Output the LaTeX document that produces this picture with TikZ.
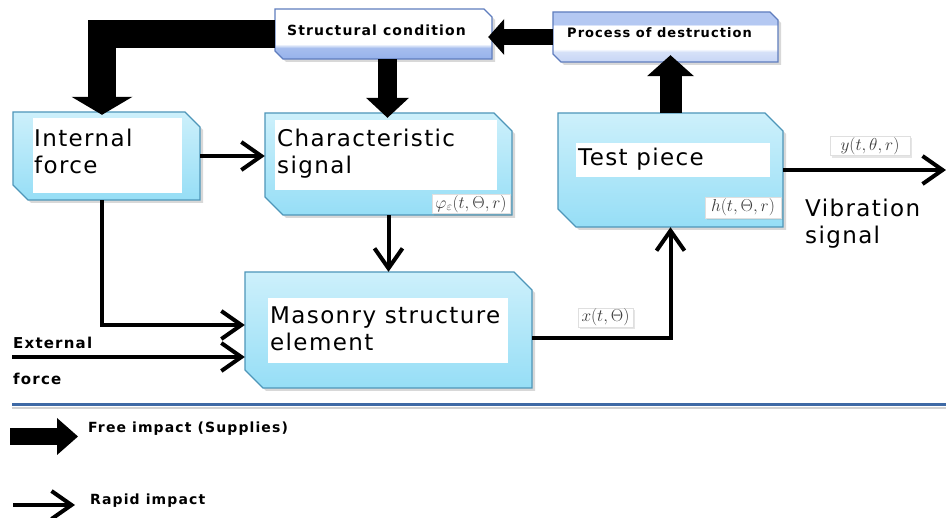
\documentclass[tikz,border=0pt]{standalone}
\usepackage{fontspec}
\usepackage{graphicx}
\usetikzlibrary{arrows.meta,shadows,fit,calc}
\newfontfamily\bigf[LetterSpace=6]{DejaVu Sans}
\newfontfamily\boldf[LetterSpace=8]{DejaVu Sans Bold}
\definecolor{bxline}{RGB}{78,150,185}
\definecolor{bxtop}{RGB}{205,240,251}
\definecolor{bxbot}{RGB}{150,222,246}
\definecolor{scline}{RGB}{95,125,190}
\definecolor{scblue}{RGB}{150,178,235}
\definecolor{pdblue}{RGB}{180,200,242}
\definecolor{rulec}{RGB}{62,105,165}
\definecolor{mathc}{RGB}{60,60,60}
\pgfdeclareverticalshading{scshade}{100bp}{color(0bp)=(scblue); color(25bp)=(scblue); color(36bp)=(scblue!85); color(40bp)=(white); color(100bp)=(white)}
\pgfdeclareverticalshading{pdshade}{100bp}{color(0bp)=(pdblue!75); color(25bp)=(pdblue!75); color(35bp)=(pdblue!55); color(38bp)=(white); color(61bp)=(white); color(63bp)=(pdblue); color(100bp)=(pdblue)}
\newcommand\snipbox[7]{%
  \path[#7] (#2,-#3) -- ({#4-#6},-#3) -- (#4,{-#3-#6}) -- (#4,-#5) -- ({#2+#6},-#5) -- (#2,{-#5+#6}) -- cycle;
  \node[fit={(#2,-#3) (#4,-#5)}, inner sep=0pt] (#1) {};
}
\begin{document}
\begin{tikzpicture}[x=1pt,y=1pt,
  bluebox/.style={draw=bxline, line width=1.3pt, top color=bxtop, bottom color=bxbot,
    drop shadow={opacity=.3, shadow xshift=3pt, shadow yshift=-3pt}},
  scbox/.style={draw=scline, line width=1.2pt, shading=scshade,
    drop shadow={opacity=.3, shadow xshift=3pt, shadow yshift=-3pt}},
  pdbox/.style={draw=scline, line width=1.2pt, shading=pdshade,
    drop shadow={opacity=.3, shadow xshift=3pt, shadow yshift=-3pt}},
  bigtxt/.style={font=\bigf\fontsize{23}{27}\selectfont, align=left, inner sep=0pt, anchor=base west},
  boldtxt/.style={font=\boldf\fontsize{#1}{#1}\selectfont, align=left, inner sep=0pt, anchor=base west},
  lbl/.style={fill=white, draw=gray!25, inner sep=1pt, text=mathc, font=\fontsize{17.28}{19}\selectfont,
    drop shadow={opacity=.2, shadow xshift=2pt, shadow yshift=-2pt}},
  rapid/.style={line width=4pt, line join=miter, -{Straight Barb[length=20pt,width=28pt]}},
  fatarrow/.style n args={3}{line width=#1, line join=miter, -{Triangle[width=#2,length=#3,line width=0pt]}}
]
\useasboundingbox (0,0) rectangle (946,-518);
\fill[white] (0,0) rectangle (946,-518);

% boxes
\snipbox{sc}{275}{9}{492}{59}{8}{scbox}
\snipbox{pd}{553}{12}{778}{62}{8}{pdbox}
\snipbox{ifo}{13}{112}{200}{200}{15}{bluebox}
\snipbox{cs}{265}{113}{512}{215}{18}{bluebox}
\snipbox{tp}{558}{113}{783}{227}{18}{bluebox}
\snipbox{ms}{245}{272}{532}{388}{18}{bluebox}

% white inner panels
\fill[white] (33,-118) rectangle (182,-193);
\fill[white] (275,-120) rectangle (497,-190);
\fill[white] (576,-143) rectangle (770,-177);
\fill[white] (268,-298) rectangle (508,-363);

% texts (base anchor = baseline of the last line)
\node[boldtxt=14] (tsc) at (287,-36) {Structural condition};
\node[boldtxt=13] (tpd) at (567,-38) {Process of destruction};
\node[bigtxt] (tif) at (34,-174) {Internal\\force};
\node[bigtxt] (tcs) at (277,-174) {Characteristic\\signal};
\node[bigtxt] (ttp) at (578,-166) {Test piece};
\node[bigtxt] (tms) at (270,-351) {Masonry structure\\element};
\node[bigtxt] (tvs) at (805,-244) {Vibration\\signal};
\node[font=\boldf\fontsize{15}{36}\selectfont, align=left, inner sep=0pt, anchor=base west] (text) at (13,-385) {External\\force};

% math labels
\node[lbl, minimum width=78pt, minimum height=18pt] (lphi) at (471,-204) {$\varphi_{\varepsilon}(t,\Theta,r)$};
\node[lbl, minimum width=76pt, minimum height=21pt] (lh) at (743,-207.5) {$h(t,\Theta,r)$};
\node[lbl, minimum width=55pt, minimum height=19pt] (lx) at (605.5,-317.5) {$x(t,\Theta)$};
\node[lbl, minimum width=80pt, minimum height=18pt] (ly) at (870,-146) {$y(t,\theta,r)$};

% separator rule
\draw[gray!35, line width=2pt] (12,-408) -- (946,-408);
\draw[rulec, line width=3pt] (12,-405) -- (946,-405);

% thick arrows
\draw[fatarrow={28pt}{61pt}{18pt}] (sc.west) -| ($(ifo.north)+(-4.5,-3)$);
\coordinate (scb) at ($(sc.south)+(4,0)$);
\draw[fatarrow={19pt}{43pt}{20pt}, shorten >=-5pt] (scb) -- (scb |- cs.north);
\draw[fatarrow={16pt}{36pt}{16pt}, shorten >=-4pt] (pd.west) -- (pd.west -| sc.east);
\draw[fatarrow={22pt}{47pt}{21pt}, shorten >=-7pt] (tp.north) -- (tp.north |- pd.south);

% rapid arrows
\draw[rapid] (ifo.east) -- (ifo.east -| cs.west);
\draw[rapid] (cs.south) -- (cs.south |- ms.north);
\draw[rapid] ($(ifo.south)+(-4.5,0)$) |- ($(ms.west)+(0,5)$);
\coordinate (ext) at (12,-357);
\draw[rapid] (ext) -- (ext -| ms.west);
\draw[rapid] ($(ms.east)+(0,-8)$) -| (tp.south);
\coordinate (out) at (946,-170);
\draw[rapid] (tp.east) -- (out);

% legend
\coordinate (lgA1) at (10,-436.5);
\coordinate (lgA2) at (78,-436.5);
\draw[fatarrow={17pt}{37pt}{21pt}] (lgA1) -- (lgA2);
\node[boldtxt=14] (lg1) at (88,-433) {Free impact (Supplies)};
\coordinate (lgB1) at (13,-505);
\coordinate (lgB2) at (75,-505);
\draw[rapid] (lgB1) -- (lgB2);
\node[boldtxt=14] (lg2) at (90,-505) {Rapid impact};
\end{tikzpicture}
\end{document}
